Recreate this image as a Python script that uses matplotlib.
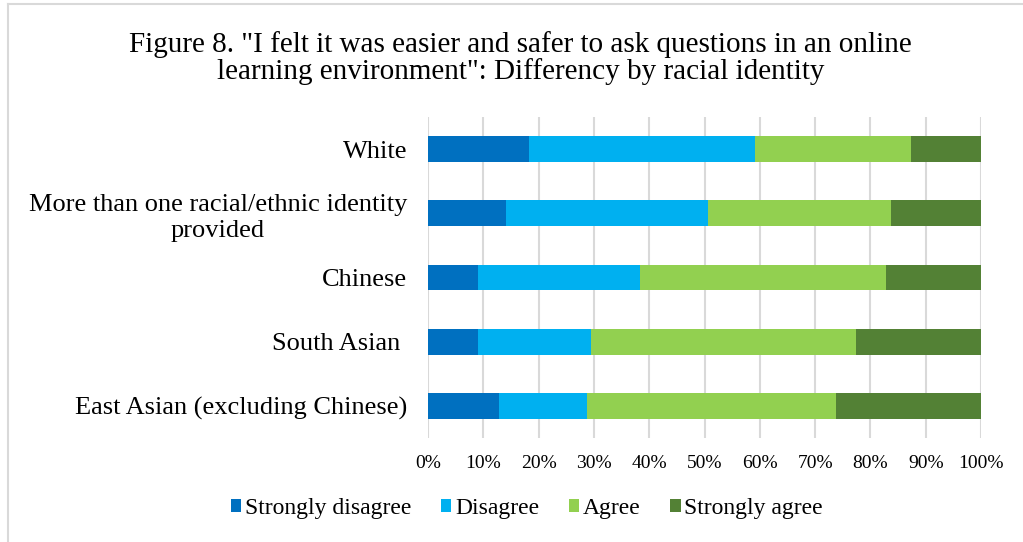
import matplotlib.pyplot as plt
from matplotlib.lines import Line2D
import numpy as np

plt.rcParams['font.family'] = ['Liberation Serif', 'DejaVu Serif']

categories = ["White",
              "More than one racial/ethnic identity\nprovided",
              "Chinese",
              "South Asian ",
              "East Asian (excluding Chinese)"]
series_names = ["Strongly disagree", "Disagree", "Agree", "Strongly agree"]
strongly_disagree = [18.3, 14.1, 9.0, 9.0, 12.9]
disagree = [40.8, 36.6, 29.4, 20.4, 15.9]
agree = [28.2, 33.0, 44.5, 48.0, 45.0]
strongly_agree = [12.7, 16.3, 17.1, 22.6, 26.2]
x_ticks = [0, 10, 20, 30, 40, 50, 60, 70, 80, 90, 100]
colors = ["#0070C0", "#00B0F0", "#92D050", "#538135"]

fig = plt.figure(figsize=(10.23, 5.42), dpi=100)
ax = fig.add_axes([0.4184, 0.192, 0.5406, 0.592])

series = [strongly_disagree, disagree, agree, strongly_agree]
y = np.arange(len(categories))
left = np.zeros(len(categories))
handles = []
for name, vals, c in zip(series_names, series, colors):
    vals = np.array(vals)
    b = ax.barh(y, vals, left=left, height=0.4, color=c, label=name, zorder=3)
    handles.append(b)
    left += vals

ax.set_ylim(len(categories) - 0.5, -0.5)
ax.set_xlim(0, 100)
ax.set_xticks(x_ticks)
ax.set_xticklabels([f"{t}%" for t in x_ticks], fontsize=14)
ax.set_yticks(y)
ax.set_yticklabels(categories, fontsize=19, ha='right', multialignment='center',
                   linespacing=1.25)
ax.tick_params(axis='y', length=0, pad=15)
ax.tick_params(axis='x', length=0, pad=12)
for s in ax.spines.values():
    s.set_visible(False)
ax.grid(axis='x', color='#D9D9D9', linewidth=1.5, zorder=0)
ax.set_axisbelow(True)

fig.text(0.509, 0.893, "Figure 8. \"I felt it was easier and safer to ask questions in an online\n"
         "learning environment\": Differency by racial identity",
         ha='center', va='center', fontsize=21, linespacing=1.0)

leg = fig.legend(handles=handles, labels=series_names, loc='center',
                 bbox_to_anchor=(0.515, 0.062), ncol=4, frameon=False,
                 fontsize=17, handlelength=0.45, handleheight=0.45,
                 handletextpad=0.15, columnspacing=1.25)

# light frame on the left and top edges
fig.add_artist(Line2D([0.008, 0.008], [0, 0.993], color='#D9D9D9', lw=1.5,
                      transform=fig.transFigure))
fig.add_artist(Line2D([0.008, 1.0], [0.993, 0.993], color='#D9D9D9', lw=1.5,
                      transform=fig.transFigure))

fig.savefig("out.png", dpi=100)
